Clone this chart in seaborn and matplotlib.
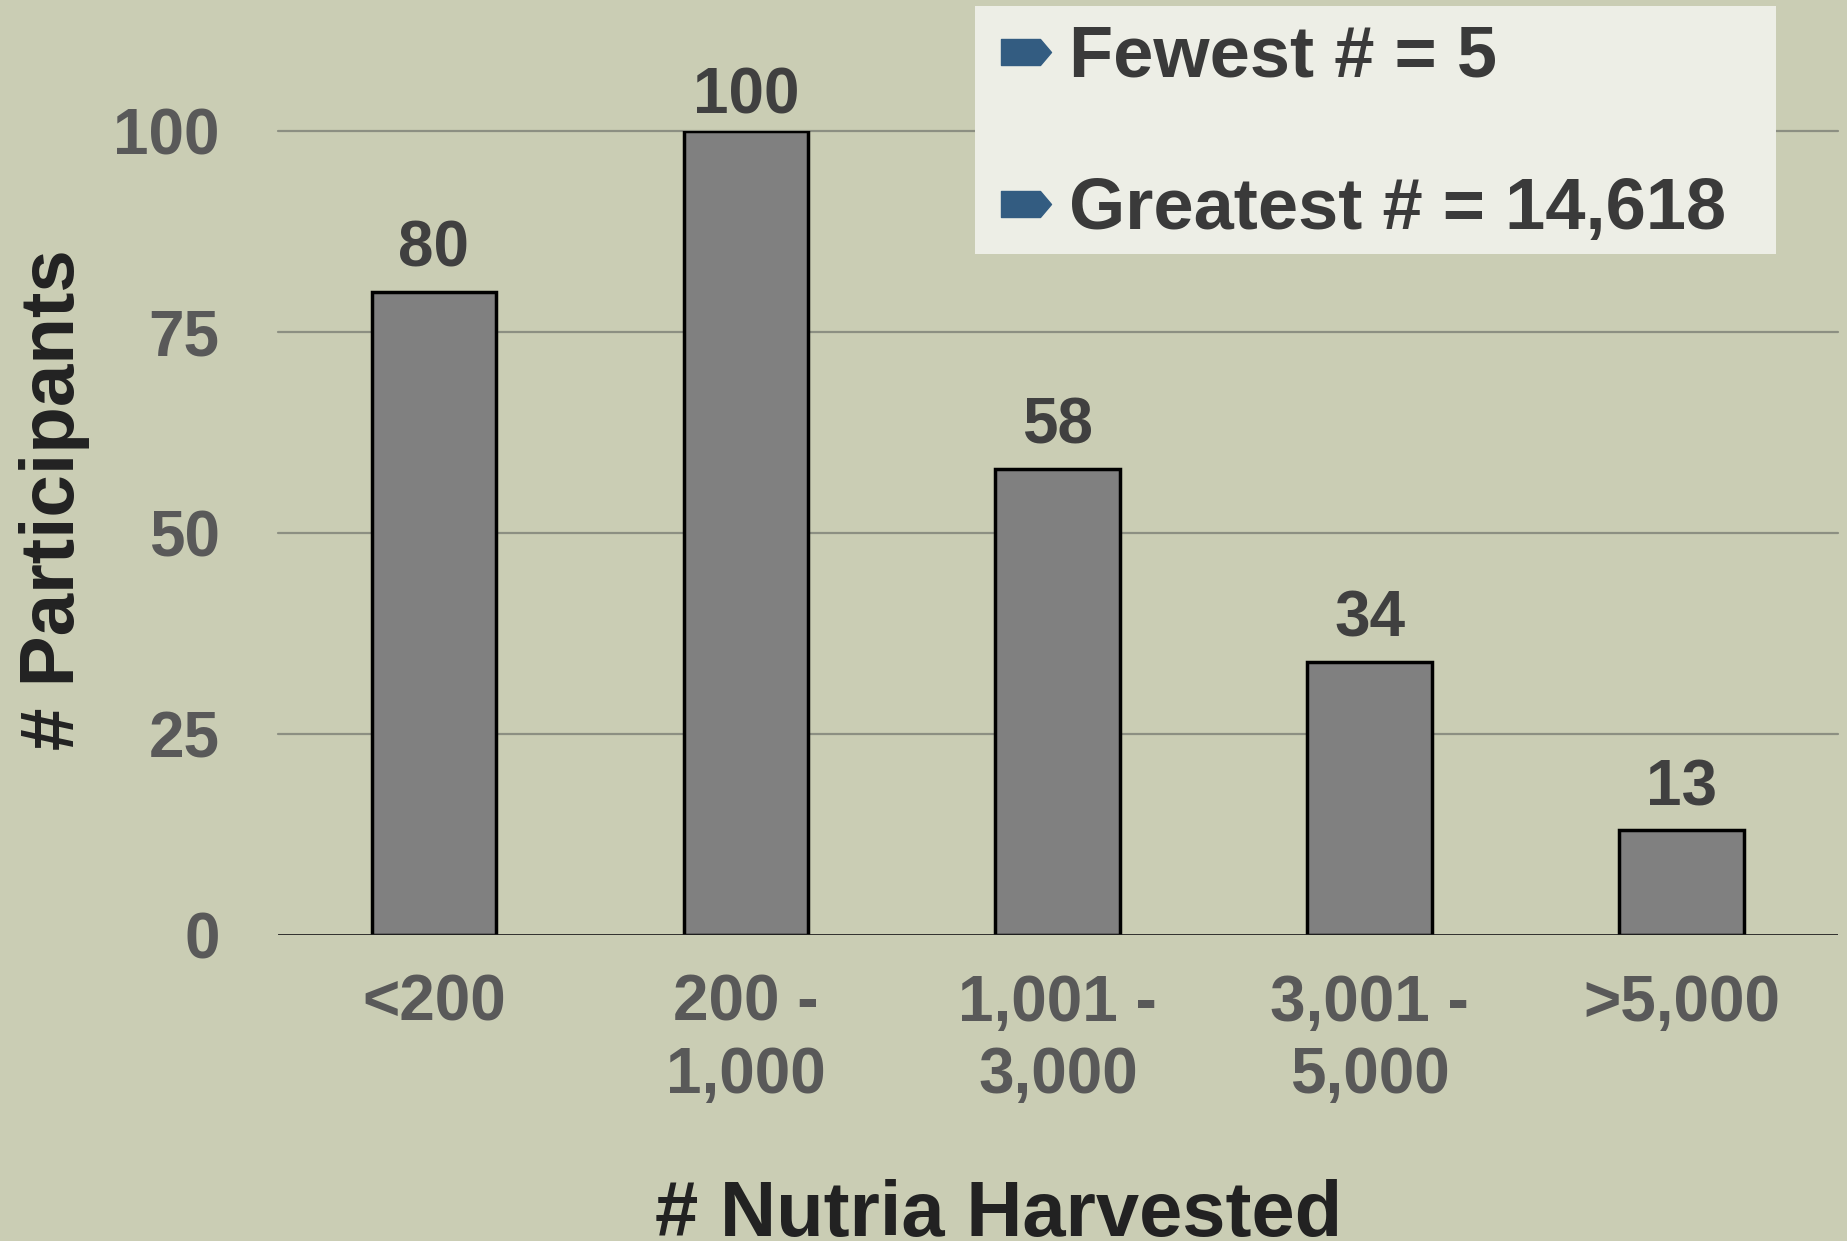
import pandas as pd
import matplotlib.pyplot as plt
import seaborn as sns
from matplotlib.path import Path
from matplotlib.lines import Line2D
from matplotlib.patches import Rectangle

# Data
categories = ['<200', '200 -\n1,000', '1,001 -\n3,000', '3,001 -\n5,000', '>5,000']
participants = [80, 100, 58, 34, 13]
legend_labels = ['Fewest # = 5', 'Greatest # = 14,618']

df = pd.DataFrame({'harvest': categories, 'participants': participants})

bg = '#CACDB4'
sns.set_theme(style='white')
plt.rcParams['font.family'] = ['Liberation Sans', 'DejaVu Sans']
plt.rcParams['font.weight'] = 'bold'

fig = plt.figure(figsize=(18.47, 12.41), dpi=100, facecolor=bg)
ax = fig.add_axes([0.1505, 0.2466, 0.8445, 0.6478])
ax.set_facecolor(bg)

sns.barplot(data=df, x='harvest', y='participants', color='#808080',
            saturation=1, edgecolor='black', linewidth=2.5, width=0.4, ax=ax, zorder=3)

ax.set_ylim(0, 100)
ax.set_xlim(-0.5, 4.5)
ax.set_yticks([0, 25, 50, 75, 100])
for y in [25, 50, 75, 100]:
    ax.axhline(y, color='#8C8F82', lw=1.6, zorder=1, clip_on=False)
ax.axhline(0, color='#222222', lw=2, zorder=4)
for s in ax.spines.values():
    s.set_visible(False)

ax.tick_params(axis='both', length=0, labelsize=46, labelcolor='#595959')
ax.tick_params(axis='y', pad=42)
ax.tick_params(axis='x', pad=28)
for lbl in ax.get_xticklabels():
    lbl.set_linespacing(1.25)

# Value labels
for i, v in enumerate(participants):
    ax.text(i, min(v + 1.5, 100.6), str(v), ha='center', va='bottom', fontsize=46,
            fontweight='bold', color='#404040', clip_on=False)

ax.set_xlabel('# Nutria Harvested', fontsize=56, fontweight='bold', color='#222222')
ax.xaxis.set_label_coords(0.462, -0.303)
ax.set_ylabel('# Participants', fontsize=55, fontweight='bold', color='#222222')
ax.yaxis.set_label_coords(-0.1205, 0.541)

# Legend box with arrow-shaped bullets
fig.patches.append(Rectangle((0.528, 0.7953), 0.4337, 0.1999, transform=fig.transFigure,
                             facecolor='#EDEEE6', edgecolor='none', zorder=0))
arrow = Path([(-0.5, -0.26), (0.28, -0.26), (0.5, 0), (0.28, 0.26), (-0.5, 0.26), (-0.5, -0.26)],
             [Path.MOVETO, Path.LINETO, Path.LINETO, Path.LINETO, Path.LINETO, Path.CLOSEPOLY])
handles = [Line2D([], [], marker=arrow, markersize=36, color='#335C81', linestyle='none')
           for _ in legend_labels]
leg = fig.legend(handles, legend_labels, loc='upper left', bbox_to_anchor=(0.542, 0.9807),
                 fontsize=52, frameon=False, labelspacing=1.17, handletextpad=0.24,
                 handlelength=0.7, borderpad=0.0, borderaxespad=0)
for t in leg.get_texts():
    t.set_color('#3A3A3A')
    t.set_fontweight('bold')

fig.savefig('out.png', dpi=100, facecolor=bg)
